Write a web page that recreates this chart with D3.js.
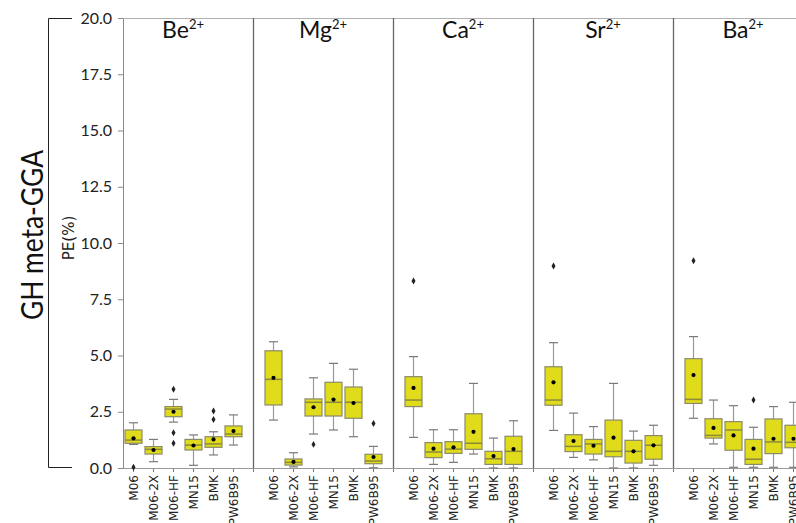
<!DOCTYPE html>
<html>
<head>
<meta charset="utf-8">
<script src="https://cdn.jsdelivr.net/npm/d3@7"></script>
<style>
  html, body { margin: 0; padding: 0; background: #fff; }
  svg { display: block; }
</style>
</head>
<body>
<svg id="chart" width="796" height="523"></svg>
<script>
// Functionals (x categories) and metal ions (panels)
const functionals = ["M06", "M06-2X", "M06-HF", "MN15", "BMK", "PW6B95"];
const ions = ["Be", "Mg", "Ca", "Sr", "Ba"];
const yTicks = [0, 2.5, 5, 7.5, 10, 12.5, 15, 17.5, 20];

// Box statistics per ion (rows) and functional (columns), PE in %
const whiskerLow = [
  [1.05, 0.28, 2.04, 0.12, 0.58, 1.02],
  [2.13, 0.05, 1.51, 1.69, 1.39, 0.01],
  [1.36, 0.16, 0.25, 0.62, 0.00, 0.00],
  [1.67, 0.47, 0.36, 0.00, 0.00, 0.12],
  [2.21, 1.07, 0.03, 0.03, 0.03, 0.03]
];
const q1 = [
  [1.10, 0.62, 2.28, 0.80, 0.92, 1.39],
  [2.80, 0.13, 2.31, 2.31, 2.21, 0.19],
  [2.73, 0.46, 0.65, 0.83, 0.16, 0.16],
  [2.79, 0.73, 0.62, 0.50, 0.22, 0.39],
  [2.87, 1.33, 0.79, 0.16, 0.64, 0.90]
];
const median = [
  [1.24, 0.83, 2.62, 1.02, 1.07, 1.51],
  [3.94, 0.25, 2.92, 2.92, 2.92, 0.31],
  [3.02, 0.71, 0.84, 1.10, 0.41, 0.74],
  [3.02, 0.96, 1.07, 0.74, 0.74, 1.01],
  [3.05, 1.45, 1.69, 0.39, 1.16, 1.14]
];
const q3 = [
  [1.69, 0.95, 2.73, 1.27, 1.39, 1.87],
  [5.21, 0.40, 3.07, 3.81, 3.60, 0.61],
  [4.06, 1.13, 1.17, 2.41, 0.74, 1.41],
  [4.50, 1.48, 1.27, 2.13, 1.23, 1.44],
  [4.86, 2.19, 2.06, 1.27, 2.18, 1.90]
];
const whiskerHigh = [
  [2.01, 1.27, 3.05, 1.47, 1.61, 2.36],
  [5.61, 0.68, 4.01, 4.65, 4.39, 0.96],
  [4.95, 1.70, 1.70, 3.76, 1.33, 2.10],
  [5.57, 2.44, 1.84, 3.76, 1.64, 1.90],
  [5.84, 3.02, 2.77, 1.81, 2.73, 2.92]
];
const meanValue = [
  [1.32, 0.80, 2.50, 1.00, 1.27, 1.64],
  [4.01, 0.27, 2.70, 3.04, 2.89, 0.49],
  [3.56, 0.86, 0.92, 1.61, 0.53, 0.84],
  [3.81, 1.20, 0.99, 1.35, 0.74, 1.01],
  [4.13, 1.78, 1.45, 0.86, 1.30, 1.30]
];
const outliers = [
  [[0.03], [], [3.50, 1.57, 1.10], [], [2.53, 2.16], []],
  [[], [], [1.05], [], [], [1.98]],
  [[8.31], [], [], [], [], []],
  [[8.98], [], [], [], [], []],
  [[9.21], [], [], [3.02], [], []]
];

const svg = d3.select("#chart");
const plotTop = 18, plotBottom = 468, axisLeft = 123;
const panelWidth = 140, firstPanelOrigin = 113;

const y = d3.scaleLinear().domain([0, 20]).range([plotBottom, plotTop]);
const panelX = i => d3.scaleLinear().domain([0, 7])
  .range([firstPanelOrigin + i * panelWidth, firstPanelOrigin + (i + 1) * panelWidth]);

const boxFill = "#e0dc1c", boxStroke = "#8a8a6a", medianStroke = "#8c8a3a";
const whiskerStroke = "#9a9a9a", capStroke = "#7a7a7a";
const boxW = 17, capW = 9;

// Outer bracket on the far left
svg.append("path")
  .attr("d", `M72,${plotTop + 0.5}H48.5V${plotBottom - 0.5}H72`)
  .attr("fill", "none").attr("stroke", "#222").attr("stroke-width", 1);

svg.append("text")
  .attr("transform", `translate(43,235) rotate(-90)`)
  .attr("text-anchor", "middle")
  .attr("font-family", "Lato, 'Open Sans', sans-serif")
  .attr("font-size", 31).attr("fill", "#111")
  .attr("textLength", 170).attr("lengthAdjust", "spacingAndGlyphs")
  .text("GH meta-GGA");

svg.append("text")
  .attr("transform", `translate(74,238) rotate(-90)`)
  .attr("text-anchor", "middle")
  .attr("font-family", "'DejaVu Sans', sans-serif")
  .attr("font-size", 15).attr("fill", "#222")
  .text("PE(%)");

// Y axis
const yAxis = d3.axisLeft(y).tickValues(yTicks).tickFormat(d3.format(".1f")).tickSize(5).tickPadding(6);
const gy = svg.append("g").attr("transform", `translate(${axisLeft},0)`).call(yAxis);
gy.select(".domain").attr("stroke", "#888");
gy.selectAll(".tick line").attr("stroke", "#888");
gy.selectAll(".tick text")
  .attr("font-family", "Lato, 'Open Sans', sans-serif")
  .attr("font-size", 16).attr("fill", "#222");

// Top border
svg.append("line")
  .attr("x1", axisLeft).attr("x2", 796)
  .attr("y1", plotTop + 0.5).attr("y2", plotTop + 0.5)
  .attr("stroke", "#b0b0b0");

ions.forEach((ion, i) => {
  const x = panelX(i);
  const g = svg.append("g");

  // Bottom axis for this panel
  const xAxis = d3.axisBottom(x)
    .tickValues(d3.range(i === 0 ? 1 : 0, 8))
    .tickFormat(d => (d >= 1 && d <= 6) ? functionals[d - 1] : "")
    .tickSize(4).tickPadding(3);
  const gx = g.append("g").attr("transform", `translate(0,${plotBottom})`).call(xAxis);
  gx.select(".domain").remove();
  gx.selectAll(".tick line").attr("stroke", "#777");
  gx.selectAll(".tick text")
    .attr("transform", "rotate(-90)")
    .attr("x", -7).attr("y", 0).attr("dy", "0.35em")
    .attr("text-anchor", "end")
    .attr("font-family", "'DejaVu Sans', sans-serif")
    .attr("font-size", 12).attr("fill", "#222");
  g.append("line")
    .attr("x1", Math.max(x(0), axisLeft)).attr("x2", x(7))
    .attr("y1", plotBottom + 0.5).attr("y2", plotBottom + 0.5)
    .attr("stroke", "#999");

  // Right divider of the panel
  g.append("line")
    .attr("x1", x(7) + 0.5).attr("x2", x(7) + 0.5)
    .attr("y1", plotTop).attr("y2", plotBottom)
    .attr("stroke", "#666").attr("stroke-width", 1.3);

  // Panel title with superscript charge
  const title = g.append("text")
    .attr("x", x(3.5)).attr("y", 38)
    .attr("text-anchor", "middle")
    .attr("font-family", "Lato, 'Open Sans', sans-serif")
    .attr("fill", "#111");
  title.append("tspan").attr("font-size", 23).text(ion);
  title.append("tspan").attr("font-size", 13).attr("dy", -9).text("2+");

  functionals.forEach((f, j) => {
    const cx = Math.round(x(j + 1)) + 0.5;
    // Whiskers
    g.append("line").attr("x1", cx).attr("x2", cx)
      .attr("y1", y(whiskerHigh[i][j])).attr("y2", y(q3[i][j]))
      .attr("stroke", whiskerStroke).attr("stroke-width", 1.2);
    g.append("line").attr("x1", cx).attr("x2", cx)
      .attr("y1", y(q1[i][j])).attr("y2", y(whiskerLow[i][j]))
      .attr("stroke", whiskerStroke).attr("stroke-width", 1.2);
    [whiskerHigh[i][j], whiskerLow[i][j]].forEach(v => {
      g.append("line").attr("x1", cx - capW / 2).attr("x2", cx + capW / 2)
        .attr("y1", y(v)).attr("y2", y(v))
        .attr("stroke", capStroke).attr("stroke-width", 1.2);
    });
    // Box
    g.append("rect")
      .attr("x", cx - boxW / 2).attr("width", boxW)
      .attr("y", y(q3[i][j])).attr("height", y(q1[i][j]) - y(q3[i][j]))
      .attr("fill", boxFill).attr("stroke", boxStroke).attr("stroke-width", 1.2);
    // Median
    g.append("line").attr("x1", cx - boxW / 2).attr("x2", cx + boxW / 2)
      .attr("y1", y(median[i][j])).attr("y2", y(median[i][j]))
      .attr("stroke", medianStroke).attr("stroke-width", 1.5);
    // Mean
    g.append("circle").attr("cx", cx).attr("cy", y(meanValue[i][j]))
      .attr("r", 2.1).attr("fill", "#000");
    // Outliers
    outliers[i][j].forEach(v => {
      g.append("path")
        .attr("d", d3.symbol(d3.symbolDiamond, 14)())
        .attr("transform", `translate(${cx},${y(v)})`)
        .attr("fill", "#222");
    });
  });
});
</script>
</body>
</html>
